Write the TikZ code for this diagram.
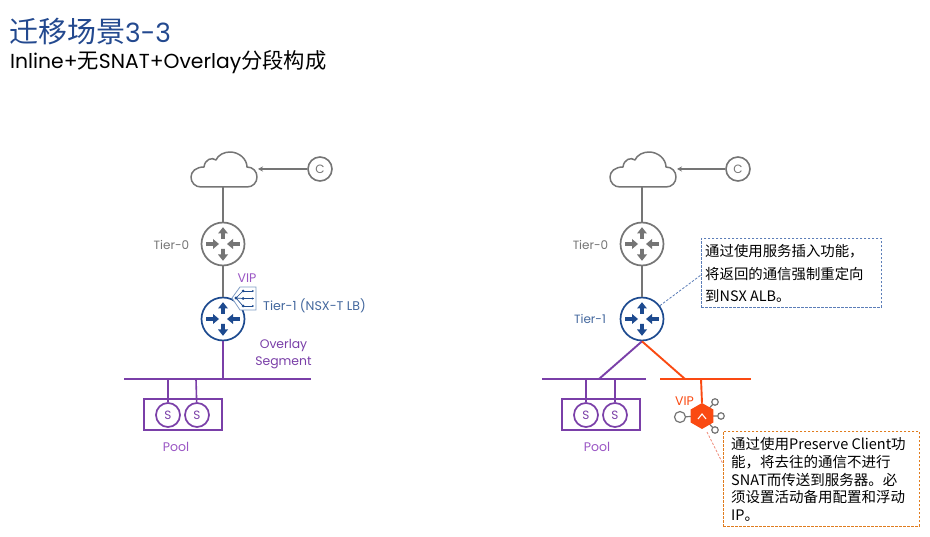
\documentclass[tikz,border=0pt]{standalone}
\usepackage{fontspec}
\setmainfont{Poppins}[BoldFont=Poppins]
\newfontfamily\cjk{Noto Sans CJK SC}
\usetikzlibrary{arrows.meta,shapes.geometric}
\definecolor{grayline}{HTML}{757575}
\definecolor{navy}{HTML}{1D4A8F}
\definecolor{softblue}{HTML}{44689E}
\definecolor{violet1}{HTML}{7A3FA8}
\definecolor{violet2}{HTML}{9A55C4}
\definecolor{hotred}{HTML}{FA4A12}
\definecolor{titleblue}{HTML}{23498F}
\definecolor{dashblue}{HTML}{5B7DB8}
\definecolor{dashorange}{HTML}{E07C1E}
\definecolor{dashred}{HTML}{F08A78}
\definecolor{iconline}{HTML}{7F9CC4}
\tikzset{
  x=1pt,y=-1pt,
  wire/.style={line width=1.7pt,draw=grayline},
  pwire/.style={line width=1.9pt,draw=violet1},
  rwire/.style={line width=1.9pt,draw=hotred},
  routernode/.style={circle,draw=#1,line width=1.7pt,minimum size=43pt,inner sep=0pt},
  servernode/.style={circle,draw=violet1,line width=1.7pt,minimum size=24pt,inner sep=0pt,text=violet1,font=\fontsize{12}{12}\selectfont},
  clientnode/.style={circle,draw=grayline,line width=1.6pt,minimum size=24pt,inner sep=0pt,text=grayline,font=\fontsize{12}{12}\selectfont},
  poolbox/.style={rectangle,draw=violet1,line width=1.2pt,minimum width=78pt,minimum height=31pt,inner sep=0pt},
  cloudbox/.style={rectangle,minimum width=66pt,minimum height=36pt,inner sep=0pt},
  lbl/.style={inner sep=0pt,font=\fontsize{#1}{#1}\selectfont},
  lbl/.default=12,
  callout/.style={rectangle,line width=.8pt,dashed,dash pattern=on 2.4pt off 1.6pt,align=left,anchor=north west,inner sep=0pt,text=black},
  satellite/.style={circle,draw=grayline,fill=white,line width=1.2pt,inner sep=0pt,minimum size=#1},
}
\newcommand{\routerarrows}[1]{%
  \fill[#1] (-1.8,-5) -- (-1.8,-10.5) -- (-5,-10.5) -- (0,-16.8) -- (5,-10.5) -- (1.8,-10.5) -- (1.8,-5) -- cycle;
  \fill[#1] (-1.8,5) -- (-1.8,10.5) -- (-5,10.5) -- (0,16.8) -- (5,10.5) -- (1.8,10.5) -- (1.8,5) -- cycle;
  \fill[#1] (-16.8,-1.8) -- (-10,-1.8) -- (-10,-5) -- (-4,0) -- (-10,5) -- (-10,1.8) -- (-16.8,1.8) -- cycle;
  \fill[#1] (16.8,-1.8) -- (10,-1.8) -- (10,-5) -- (4,0) -- (10,5) -- (10,1.8) -- (16.8,1.8) -- cycle;
}
\newcommand{\cloudshape}{%
  (-23,17) -- (23,17) .. controls (29,17) and (33,12.5) .. (33,7) .. controls (33,1.5) and (29,-3) .. (23,-3)
  .. controls (23,-11) and (15,-18) .. (6,-18) .. controls (0,-18) and (-6,-15) .. (-8,-10)
  .. controls (-12,-13) and (-19,-11) .. (-20,-3) .. controls (-28,-3) and (-33,1.5) .. (-33,7) .. controls (-33,12.5) and (-29,17) .. (-23,17) -- cycle}
\begin{document}
\begin{tikzpicture}
\useasboundingbox[fill=white] (0,0) rectangle (930,537);

% title
\node[lbl=26.5,anchor=west,text=titleblue] (title) at (9,32) {{\cjk\fontsize{29}{29}\selectfont 迁移场景}3-3};
\node[lbl=20.3,anchor=west,text=black] (subtitle) at (10,62.5) {Inline+{\cjk\fontsize{21.3}{21.3}\selectfont 无}SNAT+Overlay{\cjk\fontsize{21.3}{21.3}\selectfont 分段构成}};

% ===== left diagram =====
\node[cloudbox] (cloudL) at (224,170) {};
\draw[wire,line width=1.5pt,line join=round,shift={(224,170)}] \cloudshape;
\node[clientnode] (clientL) at (320,169) {C};
\coordinate (cloudLin) at (258,169);
\draw[wire,line width=1.5pt,-{Stealth[length=5pt,width=5pt]}] (clientL) -- (cloudLin);
\node[routernode=grayline] (t0L) at (223,244) {};
\node[routernode=navy] (t1L) at (223,319) {};
\coordinate (cloudLout) at (223,187);
\draw[wire] (cloudLout) -- (t0L);
\draw[wire] (t0L) -- (t1L);
\begin{scope}[shift={(223,244)}]\routerarrows{grayline}\end{scope}
\begin{scope}[shift={(223,319)}]\routerarrows{navy}\end{scope}
\node[lbl,text=grayline] (t0Llabel) at (171.5,245) {Tier-0};
\node[lbl=12.6,anchor=west,text=softblue] (t1Llabel) at (263,306) {Tier-1 (NSX-T LB)};
\node[lbl=12.5,text=violet2] (vipL) at (247,278.5) {VIP};
% load balancer icon
\draw[iconline,line width=.8pt,fill=white] (240,287) -- (256,287) -- (256,310) -- (240,310) -- (232,298) -- cycle;
\draw[navy,line width=.7pt,-{Stealth[length=2pt,width=2pt]}] (243,291) -- (254,291);
\draw[navy,line width=.7pt,-{Stealth[length=2pt,width=2pt]}] (243,298.5) -- (254,298.5);
\draw[navy,line width=.7pt,-{Stealth[length=2pt,width=2pt]}] (243,306) -- (254,306);
\draw[navy,line width=.7pt] (236,298) -- (243,291) (236,298) -- (243,298.5) (236,298) -- (243,306);
\fill[navy] (236,298) circle (1.7) (243,291) circle (1.5) (243,298.5) circle (1.5) (243,306) circle (1.5);
\coordinate (busLa) at (124,379);
\coordinate (busLb) at (311,379);
\coordinate (busLt) at (223,379);
\coordinate (tapL1) at (168,379);
\coordinate (tapL2) at (196,379);
\draw[pwire] (busLa) -- (busLb);
\draw[pwire] (t1L) -- (busLt);
\node[poolbox] (poolL) at (183,414.5) {};
\node[servernode] (s1L) at (168,415) {S};
\node[servernode] (s2L) at (197,415) {S};
\draw[pwire,line width=1.6pt] (tapL1) -- (s1L);
\draw[pwire,line width=1.6pt] (tapL2) -- (s2L);
\node[lbl=12.5,text=violet2] (poolLlabel) at (176,447) {Pool};
\node[lbl=12.4,text=violet1,align=center] (overlay) at (283.5,354) {Overlay\\[4pt]Segment};

% ===== right diagram =====
\node[cloudbox] (cloudR) at (643,170) {};
\draw[wire,line width=1.5pt,line join=round,shift={(643,170)}] \cloudshape;
\node[clientnode] (clientR) at (738,169) {C};
\coordinate (cloudRin) at (677,169);
\draw[wire,line width=1.5pt,-{Stealth[length=5pt,width=5pt]}] (clientR) -- (cloudRin);
\node[routernode=grayline] (t0R) at (642,244) {};
\node[routernode=navy] (t1R) at (642,319) {};
\coordinate (cloudRout) at (642,187);
\draw[wire] (cloudRout) -- (t0R);
\draw[wire] (t0R) -- (t1R);
\begin{scope}[shift={(642,244)}]\routerarrows{grayline}\end{scope}
\begin{scope}[shift={(642,319)}]\routerarrows{navy}\end{scope}
\node[lbl,text=grayline] (t0Rlabel) at (590.5,245) {Tier-0};
\node[lbl,text=softblue] (t1Rlabel) at (590,319) {Tier-1};
\coordinate (busMa) at (542,379);
\coordinate (busMb) at (646,379);
\coordinate (busMt) at (599,379);
\coordinate (tapM1) at (586,379);
\coordinate (tapM2) at (615,379);
\coordinate (busRa) at (660,379);
\coordinate (busRb) at (751,379);
\coordinate (busRt) at (685,379);
\coordinate (tapR) at (701,379);
\draw[pwire] (busMa) -- (busMb);
\draw[rwire] (busRa) -- (busRb);
\draw[pwire] (t1R.south) -- (busMt);
\draw[rwire] (t1R.south) -- (busRt);
\node[poolbox] (poolR) at (601,414.5) {};
\node[servernode] (s1R) at (586,415) {S};
\node[servernode] (s2R) at (615,415) {S};
\draw[pwire,line width=1.6pt] (tapM1) -- (s1R);
\draw[pwire,line width=1.6pt] (tapM2) -- (s2R);
\node[lbl=12.5,text=violet2] (poolRlabel) at (597,447) {Pool};
\node[lbl=12.5,text=hotred] (vipR) at (684.5,401) {VIP};
% ALB
\node[satellite=11pt] (satL) at (680,417) {};
\node[satellite=6.5pt] (satT) at (715,402) {};
\node[satellite=6.5pt] (satE) at (721,416) {};
\node[satellite=6.5pt] (satB) at (715,430) {};
\draw[grayline,line width=1.2pt] (satL) -- (702,416) (satT) -- (702,416) (satE) -- (702,416) (satB) -- (702,416);
\node[regular polygon,regular polygon sides=6,shape border rotate=30,fill=hotred,minimum size=26pt,inner sep=0pt] (hexfill) at (702,416) {};
\draw[white,line width=1.1pt,line join=miter] (698,419) -- (702,414) -- (706,419);
\draw[rwire] (tapR) -- (hexfill.north);

% callouts
\node[callout,draw=dashblue,minimum width=180pt,minimum height=69pt] (noteA) at (701,238) {};
\node[inner sep=0pt,anchor=north west,align=left,font=\cjk\fontsize{14.4}{22.4}\selectfont] (noteAtext) at (705,244.5) {通过使用服务插入功能，\\将返回的通信强制重定向\\到NSX ALB。};
\coordinate (noteAin) at (701,275);
\draw[dashblue,line width=.8pt,dashed,dash pattern=on 2.4pt off 1.6pt] (t1R) -- (noteAin);
\node[callout,draw=dashorange,minimum width=196pt,minimum height=95pt] (noteB) at (723,431) {};
\node[inner sep=0pt,anchor=north west,align=left,font=\cjk\fontsize{14.5}{17.8}\selectfont] (noteBtext) at (731,437) {通过使用Preserve Client功\\能，将去往的通信不进行\\SNAT而传送到服务器。必\\须设置活动备用配置和浮动\\IP。};
\coordinate (noteBin) at (723,464);
\draw[dashred,line width=.8pt,dashed,dash pattern=on 2.4pt off 1.6pt] (hexfill) ++(5,16) -- (noteBin);
\end{tikzpicture}
\end{document}
